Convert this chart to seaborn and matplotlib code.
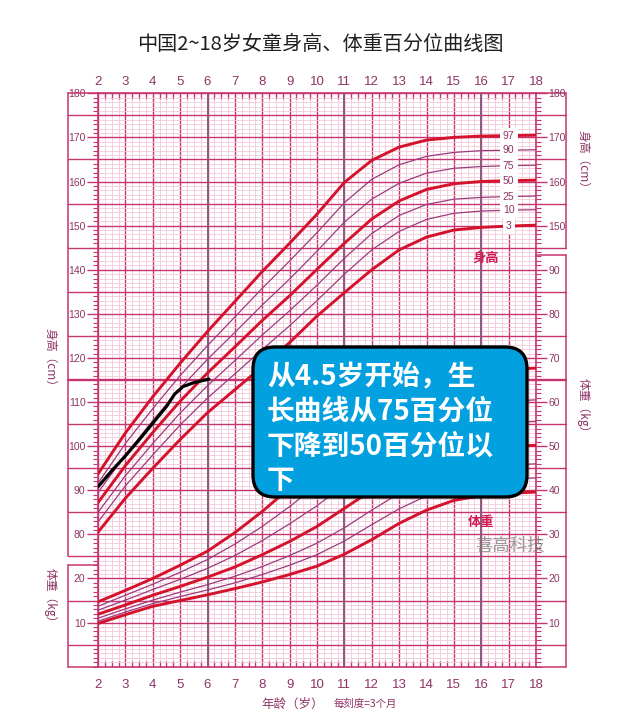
import seaborn as sns
import matplotlib.pyplot as plt
import pandas as pd
from matplotlib.patches import FancyBboxPatch
from matplotlib.ticker import MultipleLocator

sns.set_theme(style='white')
plt.rcParams['font.family'] = ['Noto Sans CJK SC', 'DejaVu Sans']

# ages of the reference curves (years)
ages = list(range(2, 19))

# girls height percentiles (cm)
height_p3 = [80.5, 88.2, 95.0, 101.5, 107.6, 112.8, 118.0, 123.5, 129.5, 134.8, 140.0, 144.5, 147.4, 149.0, 149.6, 149.9, 150.1]
height_p10 = [82.8, 91.0, 98.0, 104.8, 110.9, 116.4, 121.9, 127.3, 133.0, 139.0, 144.5, 148.7, 151.4, 152.8, 153.3, 153.5, 153.6]
height_p25 = [85.0, 93.3, 100.6, 107.5, 113.7, 119.4, 125.2, 130.7, 136.5, 142.6, 148.2, 152.3, 154.8, 156.0, 156.4, 156.6, 156.7]
height_p50 = [87.2, 95.6, 103.1, 110.2, 116.6, 122.5, 128.5, 134.1, 140.1, 146.0, 151.5, 155.6, 158.2, 159.5, 160.0, 160.2, 160.3]
height_p75 = [89.5, 98.0, 105.8, 113.1, 119.7, 125.8, 132.0, 137.9, 144.2, 150.8, 156.0, 159.6, 161.9, 163.0, 163.4, 163.6, 163.7]
height_p90 = [91.6, 100.6, 108.5, 116.0, 122.8, 129.3, 135.8, 142.0, 148.4, 155.2, 160.5, 163.8, 165.7, 166.6, 167.0, 167.1, 167.2]
height_p97 = [93.7, 103.0, 111.2, 118.8, 126.0, 132.8, 139.6, 146.0, 152.6, 159.8, 164.8, 167.8, 169.4, 170.0, 170.3, 170.4, 170.5]

# girls weight percentiles (kg)
weight_p3 = [9.8, 11.8, 13.7, 15.0, 16.3, 17.7, 19.2, 20.9, 22.8, 25.5, 28.8, 32.5, 35.5, 37.7, 38.8, 39.3, 39.6]
weight_p10 = [10.3, 12.4, 14.3, 15.9, 17.4, 19.0, 20.9, 23.0, 25.4, 28.5, 32.2, 35.8, 38.7, 40.8, 41.9, 42.5, 42.8]
weight_p25 = [11.0, 13.1, 15.1, 16.9, 18.6, 20.5, 22.7, 25.2, 28.0, 31.5, 35.5, 39.3, 42.2, 44.1, 45.1, 45.7, 46.0]
weight_p50 = [11.9, 14.0, 16.2, 18.2, 20.3, 22.6, 25.4, 28.4, 31.8, 35.9, 40.0, 43.8, 46.6, 48.4, 49.3, 49.9, 50.2]
weight_p75 = [12.8, 15.1, 17.5, 19.8, 22.3, 25.2, 28.6, 32.4, 36.5, 41.2, 45.6, 49.5, 52.3, 54.0, 54.8, 55.3, 55.6]
weight_p90 = [13.7, 16.2, 18.7, 21.4, 24.3, 27.8, 31.8, 36.3, 41.2, 46.5, 51.3, 55.0, 57.6, 59.0, 59.8, 60.2, 60.5]
weight_p97 = [14.7, 17.3, 20.0, 23.0, 26.2, 30.4, 35.2, 40.5, 46.5, 52.6, 58.0, 62.0, 64.8, 66.2, 67.0, 67.4, 67.7]

pct_names = ['3', '10', '25', '50', '75', '90', '97']
height_sets = [height_p3, height_p10, height_p25, height_p50, height_p75, height_p90, height_p97]
weight_sets = [weight_p3, weight_p10, weight_p25, weight_p50, weight_p75, weight_p90, weight_p97]

# the child's measured height
child_age = [2.0, 2.5, 3.0, 3.5, 4.0, 4.5, 4.8, 5.1, 5.5, 6.05]
child_height = [90.8, 94.4, 97.8, 101.4, 105.2, 109.0, 111.8, 113.5, 114.4, 115.2]

# weight shares the height scale: 0 kg sits on 50 cm
W_OFFSET = 50

rows = []
for name, hs, ws in zip(pct_names, height_sets, weight_sets):
    for a, h, w in zip(ages, hs, ws):
        rows.append({'age': a, 'value': h, 'pct': name, 'kind': 'height'})
        rows.append({'age': a, 'value': w + W_OFFSET, 'pct': name, 'kind': 'weight'})
df = pd.DataFrame(rows)

grid_major = '#c8346f'
grid_minor = '#f3c9d9'
grid_grey = '#8c5a7c'
thick_red = '#d4122c'
thin_purple = '#9c3b7c'
label_c = '#8e3465'

fig = plt.figure(figsize=(6.4, 7.28), dpi=100)
ax = fig.add_axes([98 / 640, 1 - 666.7 / 728, 438 / 640, (666.7 - 93.3) / 728])
ax.set_xlim(2, 18)
ax.set_ylim(50, 180)
ax.set_facecolor('white')

# grid
ax.xaxis.set_major_locator(MultipleLocator(1))
ax.xaxis.set_minor_locator(MultipleLocator(0.25))
ax.yaxis.set_major_locator(MultipleLocator(10))
ax.yaxis.set_minor_locator(MultipleLocator(1))
ax.grid(which='minor', color=grid_minor, lw=0.6, zorder=0)
ax.grid(which='major', color=grid_major, lw=1.0, zorder=1)
ax.set_axisbelow(True)

px_x = 438 / 16
ext = 30 / 438
for y in range(55, 180, 10):
    ax.axhline(y, xmin=-ext, xmax=1 + ext, color=grid_major, lw=1.7 if y == 115 else 1.0,
               clip_on=False, zorder=1)
for a in [6, 11, 16]:
    ax.axvline(a, color=grid_grey, lw=1.4, zorder=1)

# outside frame boxes
xl = 2 - 30 / px_x
xr = 18 + 30 / px_x
frame = dict(color=grid_major, lw=1.1, clip_on=False, zorder=1)
ax.plot([xl, xl], [75, 180], **frame)
ax.plot([xl, xl], [50, 73], **frame)
ax.plot([xl, 2], [180, 180], **frame)
ax.plot([xl, 2], [73, 73], **frame)
ax.plot([xl, 2], [50, 50], **frame)
ax.plot([xr, xr], [145, 180], **frame)
ax.plot([xr, xr], [50, 143.3], **frame)
ax.plot([18, xr], [180, 180], **frame)
ax.plot([18, xr], [143.3, 143.3], **frame)
ax.plot([18, xr], [50, 50], **frame)

# percentile curves
for kind in ['weight', 'height']:
    for name in pct_names:
        sub = df[(df['kind'] == kind) & (df['pct'] == name)]
        thick = name in ('3', '50', '97')
        sns.lineplot(data=sub, x='age', y='value', ax=ax, color=thick_red if thick else thin_purple,
                     lw=2.1 if thick else 0.9, zorder=3, legend=False)

for name, hs in zip(pct_names, height_sets):
    ax.text(17, hs[15], name, ha='center', va='center', fontsize=7.5, color=label_c,
            family='Liberation Sans', zorder=4,
            bbox=dict(boxstyle='square,pad=0.3', fc='white', ec='none'))

sns.lineplot(x=child_age, y=child_height, ax=ax, color='black', lw=2.3, zorder=5)

for s in ax.spines.values():
    s.set_color(grid_major)
    s.set_linewidth(1.2)
    s.set_zorder(2)

# ticks and labels
left_ticks = [60, 70] + list(range(80, 190, 10))
left_labels = ['10', '20'] + [str(v) for v in range(80, 190, 10)]
ax.set_yticks(left_ticks)
ax.set_yticklabels(left_labels)
ax.tick_params(axis='y', which='major', direction='out', length=8, width=1.0, color=grid_major,
               labelsize=7.5, labelcolor=label_c, pad=1, labelfontfamily='Liberation Sans')
ax.tick_params(axis='y', which='minor', direction='out', length=3.5, width=0.8, color=grid_major)

ax.set_xticks(ages)
ax.set_xticklabels([str(a) for a in ages])
ax.tick_params(axis='x', which='major', length=0, pad=9, labelsize=9.5, labelcolor=label_c,
               labelfontfamily='Liberation Sans')
ax.tick_params(axis='x', which='minor', direction='in', length=4, width=1.0, color=grid_major,
               top=True, bottom=True)
ax.set_xlabel('')
ax.set_ylabel('')

top = ax.secondary_xaxis('top')
top.set_xticks(ages)
top.set_xticklabels([str(a) for a in ages])
top.tick_params(length=0, pad=4, labelsize=9.5, labelcolor=label_c, labelfontfamily='Liberation Sans')
top.spines['top'].set_visible(False)

axr = ax.twinx()
axr.set_ylim(50, 180)
right_ticks = list(range(60, 150, 10)) + [150, 160, 170, 180]
right_labels = [str(v) for v in range(10, 100, 10)] + ['150', '160', '170', '180']
axr.set_yticks(right_ticks)
axr.set_yticklabels(right_labels)
axr.yaxis.set_minor_locator(MultipleLocator(1))
axr.tick_params(axis='y', which='major', direction='out', length=8, width=1.0, color=grid_major,
                labelsize=7.5, labelcolor=label_c, pad=1, labelfontfamily='Liberation Sans')
axr.tick_params(axis='y', which='minor', direction='out', length=3.5, width=0.8, color=grid_major)
axr.grid(False)
for s in axr.spines.values():
    s.set_visible(False)

# overlay in pixel coordinates for text and callout
ov = fig.add_axes([0, 0, 1, 1])
ov.set_xlim(0, 640)
ov.set_ylim(728, 0)
ov.axis('off')

ov.text(320, 44, '中国2~18岁女童身高、体重百分位曲线图', ha='center', va='center',
        fontsize=14.5, color='#1f1f1f')

side = dict(rotation=-90, ha='center', va='center', fontsize=8.5, color=label_c)
ov.text(50, 360, '身高（cm）', **side)
ov.text(50, 598, '体重（kg）', **side)
ov.text(583, 162, '身高（cm）', **side)
ov.text(583, 408, '体重（kg）', **side)

ov.text(293, 704, '年龄（岁）', ha='center', va='center', fontsize=9, color=label_c)
ov.text(365, 704, '每刻度=3个月', ha='center', va='center', fontsize=7.5, color=label_c)

ov.text(486, 258, '身高', ha='center', va='center', fontsize=9.5, fontweight='bold', color='#d01b55')
ov.text(481, 522, '体重', ha='center', va='center', fontsize=9.5, fontweight='bold', color='#d01b55')
ov.text(510, 546, '喜高科技', ha='center', va='center', fontsize=12.5, color='#7a7a7a', alpha=0.75)

box = FancyBboxPatch((253, 347), 274, 150, boxstyle='round,pad=0,rounding_size=22',
                     fc='#03a0e0', ec='black', lw=2.4, zorder=6)
ov.add_patch(box)
lines = ['从4.5岁开始，生', '长曲线从75百分位', '下降到50百分位以', '下']
for i, t in enumerate(lines):
    ov.text(267, 377 + i * 34.7, t, ha='left', va='center', fontsize=20, fontweight='bold',
            color='white', zorder=7)

fig.savefig('out.png', dpi=100)
